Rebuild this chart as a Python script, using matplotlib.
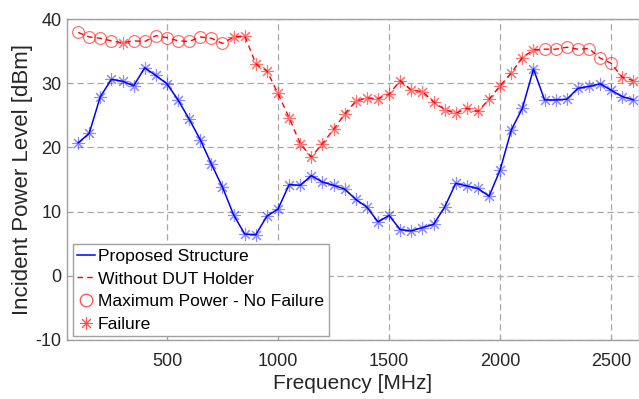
import numpy as np
import matplotlib.pyplot as plt
from matplotlib.lines import Line2D

plt.rcParams['font.family'] = ['Liberation Sans', 'DejaVu Sans']
plt.rcParams['axes.unicode_minus'] = False

# frequency points (MHz)
freq = [100, 150, 200, 250, 300, 350, 400, 450, 500, 550,
        600, 650, 700, 750, 800, 850, 900, 950, 1000, 1050,
        1100, 1150, 1200, 1250, 1300, 1350, 1400, 1450, 1500, 1550,
        1600, 1650, 1700, 1750, 1800, 1850, 1900, 1950, 2000, 2050,
        2100, 2150, 2200, 2250, 2300, 2350, 2400, 2450, 2500, 2550,
        2600]

# incident power with the proposed structure (dBm)
proposed = [20.7, 22.2, 27.9, 30.6, 30.3, 29.6, 32.4, 31.2, 29.9, 27.4,
            24.4, 21.2, 17.4, 13.8, 9.5, 6.5, 6.4, 9.3, 10.4, 14.2,
            14.1, 15.6, 14.6, 14.1, 13.5, 11.9, 10.7, 8.4, 9.4, 7.2,
            7.0, 7.5, 8.0, 10.7, 14.4, 14.0, 13.6, 12.4, 16.5, 22.7,
            26.1, 32.2, 27.4, 27.4, 27.5, 29.2, 29.5, 29.9, 28.9, 27.9,
            27.4]

# incident power without the DUT holder (dBm)
no_holder = [37.9, 37.2, 37.0, 36.6, 36.3, 36.6, 36.5, 37.4, 37.1, 36.6,
             36.5, 37.2, 37.0, 36.2, 37.2, 37.4, 33.0, 31.9, 28.4, 24.6,
             20.6, 18.5, 20.6, 22.8, 25.2, 27.2, 27.7, 27.6, 28.3, 30.4,
             28.9, 28.7, 27.1, 25.9, 25.3, 26.1, 25.6, 27.5, 29.6, 31.6,
             34.0, 35.2, 35.3, 35.3, 35.6, 35.3, 35.4, 33.9, 33.1, 30.9,
             30.4]

# 1 = device failed at that point, 0 = max power reached without failure
failed = [0, 0, 0, 0, 1, 0, 0, 0, 0, 0,
          0, 0, 0, 0, 1, 1, 1, 1, 1, 1,
          1, 1, 1, 1, 1, 1, 1, 1, 1, 1,
          1, 1, 1, 1, 1, 1, 1, 1, 1, 1,
          1, 1, 0, 0, 0, 0, 0, 0, 0, 1,
          1]

xticks = [500, 1000, 1500, 2000, 2500]
yticks = [-10, 0, 10, 20, 30, 40]

asterisk = (8, 2, 0)
freq_a = np.array(freq)
red_a = np.array(no_holder)
fail_a = np.array(failed) == 1

fig = plt.figure(figsize=(6.39, 3.99), dpi=100)
ax = fig.add_axes([67/639, 59/399, 572/639, 321/399])

ax.plot(freq, proposed, color='#0000ff', lw=1.1, zorder=3)
ax.plot(freq, proposed, ls='none', marker=asterisk, ms=9, mew=0.8,
        color='#0000ff', alpha=0.45, zorder=4)

ax.plot(freq, no_holder, color='#ff0000', lw=1.0, ls=(0, (4, 3)), zorder=3)
ax.plot(freq_a[~fail_a], red_a[~fail_a], ls='none', marker='o', ms=8.5,
        mfc='none', mec='#ff0000', mew=0.9, alpha=0.55, zorder=4)
ax.plot(freq_a[fail_a], red_a[fail_a], ls='none', marker=asterisk, ms=9,
        mew=0.8, color='#ff0000', alpha=0.55, zorder=4)

ax.set_xlim(50, 2625)
ax.set_ylim(-10, 40)
ax.set_xticks(xticks)
ax.set_yticks(yticks)
ax.grid(True, ls=(0, (5, 3)), color='#a8a8a8', lw=0.9)
ax.set_axisbelow(True)
ax.tick_params(direction='in', length=3, labelsize=13, colors='#262626')
ax.tick_params(axis='x', pad=9)
ax.tick_params(axis='y', pad=4)
ax.tick_params(axis='both', color='#a0a0a0')
for s in ax.spines.values():
    s.set_color('#a0a0a0')
    s.set_linewidth(1.0)

ax.set_xlabel('Frequency [MHz]', fontsize=15, color='#262626', labelpad=3)
ax.set_ylabel('Incident Power Level [dBm]', fontsize=16, color='#262626', labelpad=2)

handles = [
    Line2D([], [], color='#0000ff', lw=1.1),
    Line2D([], [], color='#ff0000', lw=1.0, ls=(0, (4, 3))),
    Line2D([], [], ls='none', marker='o', ms=9, mfc='none', mec='#ff0000', mew=0.9, alpha=0.7),
    Line2D([], [], ls='none', marker=asterisk, ms=9, mew=0.7, color='#ff0000', alpha=0.7),
]
labels = ['Proposed Structure', 'Without DUT Holder',
          'Maximum Power - No Failure', 'Failure']
leg = ax.legend(handles, labels, loc='lower left', bbox_to_anchor=(0.01, 0.012),
                fontsize=12.6, handlelength=1.0, handletextpad=0.2, borderpad=0.25,
                labelspacing=0.42, borderaxespad=0, fancybox=False,
                edgecolor='#a0a0a0', framealpha=1)
leg.get_frame().set_linewidth(1.0)

fig.savefig('out.png', dpi=100)
